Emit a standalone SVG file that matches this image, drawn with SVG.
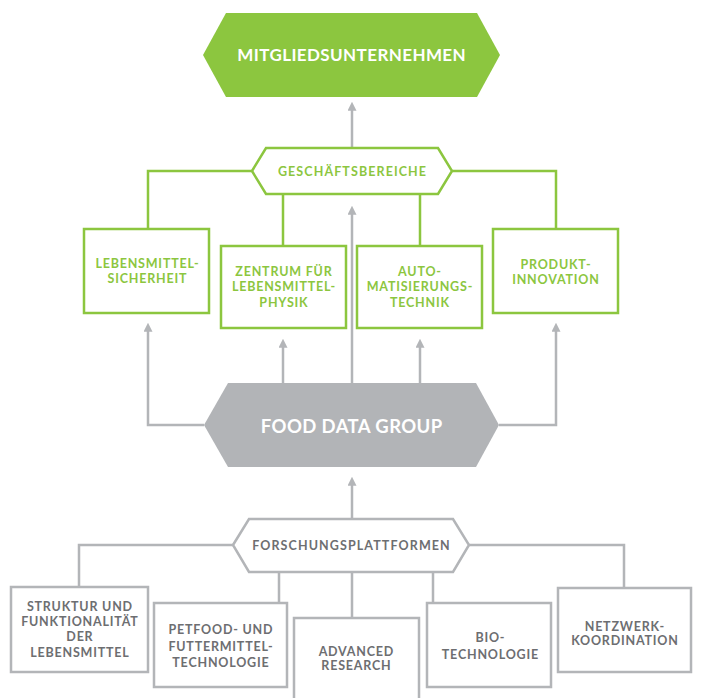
<svg xmlns="http://www.w3.org/2000/svg" width="704" height="698" viewBox="0 0 704 698">
<defs>
<style>
text{font-family:Lato,"Open Sans","Liberation Sans",sans-serif;font-weight:700;text-anchor:middle}
.g{fill:#8cc63f}
.gs{fill:#fff;stroke:#8cc63f;stroke-width:2.5}
.gr{fill:#fff;stroke:#b3b5b8;stroke-width:2.5}
.gt{fill:#8cc63f;font-size:12.5px;letter-spacing:0.8px}
.tt{fill:#6d6e71;font-size:12.5px;letter-spacing:0.8px}
.hx{letter-spacing:1.1px}
.wt{fill:#fff;letter-spacing:0.4px}
.cg{fill:none;stroke:#8cc63f;stroke-width:2.5}
.cy{fill:none;stroke:#b3b5b8;stroke-width:2.5}
</style>
<marker id="ah" viewBox="0 0 10 10" refX="2" refY="5" markerWidth="9" markerHeight="9" markerUnits="userSpaceOnUse" orient="auto">
<path d="M0,0 L10,5 L0,10 z" fill="#b3b5b8"/>
</marker>
</defs>
<rect width="704" height="698" fill="#fff"/>
<g id="connectors">
<path class="cg" d="M252 171 H148 V229 M452 171 H556 V229 M283 194 V246 M420 194 V246"/>
<path class="cy" d="M352 148 V109" marker-end="url(#ah)"/>
<path class="cy" d="M352 384 V213" marker-end="url(#ah)"/>
<path class="cy" d="M283 384 V346" marker-end="url(#ah)"/>
<path class="cy" d="M420 384 V346" marker-end="url(#ah)"/>
<path class="cy" d="M204 425 H148 V330" marker-end="url(#ah)"/>
<path class="cy" d="M499 425 H556 V330" marker-end="url(#ah)"/>
<path class="cy" d="M352 519 V484" marker-end="url(#ah)"/>
<path class="cy" d="M233 545 H79 V587 M469 545 H624 V588 M279 572 V603 M352 572 V618 M433 572 V603"/>
</g>
<g id="mitglied">
<polygon class="g" points="203,55 226,13 477,13 500,55 477,97 226,97"/>
<text class="wt" x="351.7" y="61" font-size="17">MITGLIEDSUNTERNEHMEN</text>
</g>
<g id="geschaeft">
<polygon class="gs" points="252,171 266,148 438,148 452,171 438,194 266,194"/>
<text class="gt hx" x="352.5" y="176" font-size="13">GESCHÄFTSBEREICHE</text>
</g>
<g id="lebensmittel">
<rect class="gs" x="84" y="229" width="125" height="84"/>
<text class="gt" x="147.4" y="268">LEBENSMITTEL-</text>
<text class="gt" x="147.4" y="283">SICHERHEIT</text>
</g>
<g id="zentrum">
<rect class="gs" x="221" y="246" width="125" height="82"/>
<text class="gt" x="283.9" y="276">ZENTRUM FÜR</text>
<text class="gt" x="283.9" y="291">LEBENSMITTEL-</text>
<text class="gt" x="283.9" y="307">PHYSIK</text>
</g>
<g id="auto">
<rect class="gs" x="357" y="246" width="125" height="82"/>
<text class="gt" x="419.9" y="276">AUTO-</text>
<text class="gt" x="419.9" y="291">MATISIERUNGS-</text>
<text class="gt" x="419.9" y="307">TECHNIK</text>
</g>
<g id="produkt">
<rect class="gs" x="493" y="229" width="125" height="84"/>
<text class="gt" x="555.9" y="269">PRODUKT-</text>
<text class="gt" x="555.9" y="284">INNOVATION</text>
</g>
<g id="fdg">
<polygon fill="#b2b4b7" points="204,425 228,383 476,383 499,425 476,467 228,467"/>
<text class="wt" x="351.7" y="433" font-size="18.5">FOOD DATA GROUP</text>
</g>
<g id="forschung">
<polygon class="gr" points="233,545 249,519 453,519 469,545 453,572 249,572"/>
<text class="tt hx" x="351.5" y="550" font-size="13">FORSCHUNGSPLATTFORMEN</text>
</g>
<g id="struktur">
<rect class="gr" x="11" y="587" width="137" height="85"/>
<text class="tt" x="79.9" y="611">STRUKTUR UND</text>
<text class="tt" x="79.9" y="626">FUNKTIONALITÄT</text>
<text class="tt" x="79.9" y="641">DER</text>
<text class="tt" x="79.9" y="657">LEBENSMITTEL</text>
</g>
<g id="petfood">
<rect class="gr" x="154" y="603" width="133" height="84"/>
<text class="tt" x="220.9" y="634">PETFOOD- UND</text>
<text class="tt" x="220.9" y="651">FUTTERMITTEL-</text>
<text class="tt" x="220.9" y="667">TECHNOLOGIE</text>
</g>
<g id="advanced">
<rect class="gr" x="294" y="618" width="125" height="90"/>
<text class="tt" x="356.4" y="656">ADVANCED</text>
<text class="tt" x="356.4" y="670">RESEARCH</text>
</g>
<g id="bio">
<rect class="gr" x="427" y="603" width="124" height="84"/>
<text class="tt" x="490.4" y="642">BIO-</text>
<text class="tt" x="490.4" y="659">TECHNOLOGIE</text>
</g>
<g id="netzwerk">
<rect class="gr" x="558" y="588" width="133" height="84"/>
<text class="tt" x="624.9" y="631">NETZWERK-</text>
<text class="tt" x="624.9" y="645">KOORDINATION</text>
</g>
</svg>
